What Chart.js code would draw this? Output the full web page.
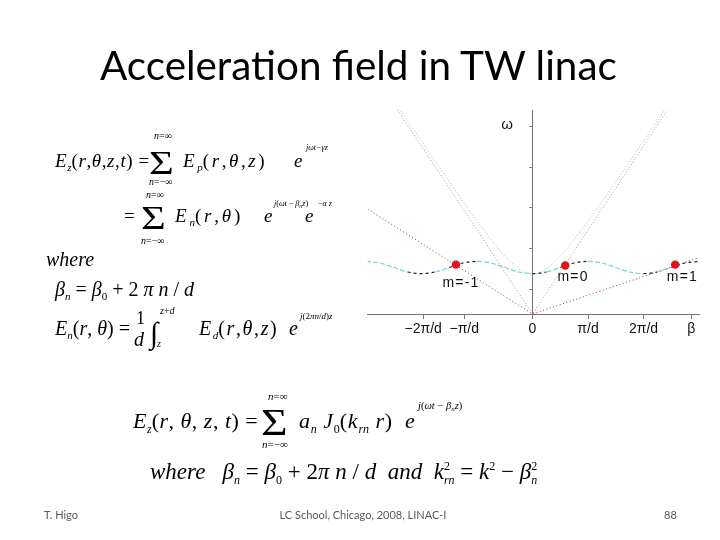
<!DOCTYPE html>
<html><head><meta charset="utf-8">
<script src="https://cdn.jsdelivr.net/npm/chart.js@4/dist/chart.umd.min.js"></script>
<style>
html,body{margin:0;padding:0;background:#fff;}
#slide{position:relative;width:720px;height:540px;overflow:hidden;background:#fff;}
#c{position:absolute;left:0;top:0;}
.t{position:absolute;white-space:nowrap;color:#000;}
.bm{display:inline-block;width:0;height:0;vertical-align:baseline;}
.sb{position:relative;}
</style>
</head><body>
<div id="slide"><canvas id="c" width="720" height="540"></canvas></div>
<script>
// ---- data (beta in units of pi/d, omega in axis units) ----
const bandBeta  = [-3,-2.75,-2.5,-2.25,-2,-1.75,-1.5,-1.25,-1,-0.75,-0.5,-0.25,0,0.25,0.5,0.75,1,1.25,1.5,1.75,2,2.25,2.5,2.75,3];
const bandOmega = [1.29,1.25,1.14,1.03,0.99,1.03,1.14,1.25,1.29,1.25,1.14,1.03,0.99,1.03,1.14,1.25,1.29,1.25,1.14,1.03,0.99,1.03,1.14,1.25,1.29];
const lightBeta  = [-2.43,0,2.43];
const lightOmega = [5.0,0,5.0];
const guideBeta  = [-2.4,-2,-1.5,-1,-0.75,-0.5,-0.25,0,0.25,0.5,0.75,1,1.5,2,2.4];
const guideOmega = [5.04,4.24,3.24,2.28,1.83,1.42,1.11,0.98,1.11,1.42,1.83,2.28,3.24,4.24,5.04];
const modeLabels = ['m=-1','m=0','m=1'];
const modeBeta   = [-1.38,0.59,2.57];
const modeOmega  = [1.21,1.19,1.21];
const mLineBeta  = [-2.97,0,3.0];
const mLineOmega = [2.57,0,1.38];
const tickBeta   = [-1.97,-1.23,0,1,2,2.86];
const tickText   = ['\u22122\u03c0/d','\u2212\u03c0/d','0','\u03c0/d','2\u03c0/d','\u03b2'];
const yTickOmega = [0.6,1.6,2.6,3.6,4.6];

const pts = (xs, ys) => xs.map((x, i) => ({x: x, y: ys[i]}));

// ---- slide text ----
const slide = document.getElementById('slide');
const SERIF = '"Liberation Serif","Times New Roman",serif';
const SANS = 'Lato,"Liberation Sans",sans-serif';
function put(html, x, base, size, family, extra) {
  const d = document.createElement('div');
  d.className = 't';
  d.style.left = x + 'px';
  d.style.top = '0px';
  d.style.fontSize = size + 'px';
  d.style.fontFamily = family || SERIF;
  if (extra) Object.assign(d.style, extra);
  d.innerHTML = html + '<span class="bm"></span>';
  slide.appendChild(d);
  const off = d.querySelector('.bm').offsetTop;
  d.style.top = (base - off) + 'px';
  return d;
}
const sub = (s, px, dy) => `<span class="sb" style="font-size:${px||11}px;top:${dy||4}px;letter-spacing:0">${s}</span>`;
const sup = (s, px, dy) => `<span class="sb" style="font-size:${px||11}px;top:${-(dy||8)}px">${s}</span>`;
const I = s => `<i>${s}</i>`;
const SIG = {transform:'scaleX(1.25)', transformOrigin:'left'};

// title
const title = put('Acceleration field in TW linac', 100, 80, 44, SANS);
const tw = title.getBoundingClientRect().width;
title.style.fontSize = (44 * 517 / tw) + 'px';
{ const off = title.querySelector('.bm').offsetTop; title.style.top = (80 - off) + 'px'; }

// row 1
put(`${I('E')}${sub(I('z'))}(${I('r')},${I('θ')},${I('z')},${I('t')}) =`, 55, 167, 19, SERIF, {letterSpacing:'0.6px'});
put('Σ', 149, 174, 34, SERIF, SIG);
put(`${I('n')}=∞`, 154, 139, 10);
put(`${I('n')}=−∞`, 149, 185, 10);
put(`${I('E')}${sub(I('p'))}(${I('r')},${I('θ')},${I('z')})`, 183, 167, 19, SERIF, {letterSpacing:'2.6px'});
put(I('e'), 294, 167, 19);
put(I('jωt−γz'), 306, 150, 8);
// row 2
put('=', 124, 222, 19);
put('Σ', 141, 229, 34, SERIF, SIG);
put(`${I('n')}=∞`, 146, 198, 10);
put(`${I('n')}=−∞`, 141, 244, 10);
put(`${I('E')}${sub(I('n'))}(${I('r')},${I('θ')})`, 175, 222, 19, SERIF, {letterSpacing:'2.8px'});
put(I('e'), 264, 222, 19);
put(`${I('j')}(${I('ωt')} − ${I('β')}${sub(I('n'),6,2)}${I('z')})`, 274, 206, 8);
put(I('e'), 305, 222, 19);
put(`−${I('α z')}`, 318, 206, 8);
// row 3-5
put(I('where'), 46, 266, 20);
put(`${I('β')}${sub(I('n'))} = ${I('β')}${sub('0')} + 2 ${I('π n')} / ${I('d')}`, 55, 296, 20);
put(`${I('E')}${sub(I('n'))}(${I('r')}, ${I('θ')}) =`, 55, 335, 20);
put('1', 136, 324, 18);
put(I('d'), 134, 346, 20);
put('∫', 150, 343, 30);
put(`${I('z')}+${I('d')}`, 160, 314, 10);
put(I('z'), 157, 347, 10);
put(`${I('E')}${sub(I('d'))}(${I('r')},${I('θ')},${I('z')})`, 199, 335, 20, SERIF, {letterSpacing:'1.6px'});
put(I('e'), 289, 335, 20);
put(`${I('j')}(2${I('πn')}/${I('d')})${I('z')}`, 300, 319, 9);

// bottom equation
put(`${I('E')}${sub(I('z'),12,5)}(${I('r')}, ${I('θ')}, ${I('z')}, ${I('t')}) =`, 133, 428, 22, SERIF, {letterSpacing:'0.5px'});
put('Σ', 261, 435, 38, SERIF, {transform:'scaleX(1.2)', transformOrigin:'left'});
put(`${I('n')}=∞`, 268, 400, 11);
put(`${I('n')}=−∞`, 262, 448, 11);
put(`${I('a')}${sub(I('n'),12,5)} ${I('J')}${sub('0',12,5)}(${I('k')}${sub(I('rn'),12,5)} ${I('r')})`, 299, 428, 22, SERIF, {letterSpacing:'0.8px'});
put(I('e'), 405, 428, 22);
put(`${I('j')}(${I('ωt')} − ${I('β')}${sub(I('n'),7,2)}${I('z')})`, 418, 409, 10.5);
put(`${I('where')}&nbsp;&nbsp; ${I('β')}${sub(I('n'),12,5)} = ${I('β')}${sub('0',12,5)} + 2${I('π n')} / ${I('d')}&nbsp; ${I('and')}&nbsp; ${I('k')}<span class="sb" style="font-size:12px;top:-9px">2</span><span class="sb" style="font-size:12px;top:5px;margin-left:-6px">${I('rn')}</span> = ${I('k')}${sup('2',12,9)} − ${I('β')}<span class="sb" style="font-size:12px;top:-9px">2</span><span class="sb" style="font-size:12px;top:5px;margin-left:-6px">${I('n')}</span>`, 150, 479, 23);

// footer
put('T. Higo', 44, 519, 11, SANS, {color:'#5a5a5a'});
const ft = put('LC School, Chicago, 2008, LINAC-I', 0, 519, 11, SANS, {color:'#5a5a5a'});
ft.style.left = (363 - ft.getBoundingClientRect().width / 2) + 'px';
put('88', 664, 519, 11, SANS, {color:'#5a5a5a'});

// ---- chart ----
Chart.defaults.font.family = '"Liberation Sans", Arial, sans-serif';
const blackRanges = [[-2.3,-1.7],[-1.55,-0.95],[-0.05,0.3],[0.45,1.05],[1.95,2.3],[2.45,3.1]];
const isBlack = (ctx) => {
  const m = (ctx.p0.parsed.x + ctx.p1.parsed.x) / 2;
  return blackRanges.some(r => m >= r[0] && m <= r[1]);
};

const labelPlugin = {
  id: 'labels',
  afterDatasetsDraw(chart) {
    const {ctx, scales: {x, y}} = chart;
    ctx.save();
    ctx.fillStyle = '#111';
    ctx.font = '15px "Liberation Sans", Arial, sans-serif';
    ctx.textAlign = 'center';
    ctx.textBaseline = 'middle';
    ctx.fillText('\u03c9', x.getPixelForValue(-0.46), y.getPixelForValue(4.64));
    ctx.font = '14px "Liberation Sans", Arial, sans-serif';
    const off = [[-1.3,0.75],[0.72,0.9],[2.69,0.9]];
    modeLabels.forEach((t, i) => {
      ctx.fillText(t.split('').join('\u200a'), x.getPixelForValue(off[i][0]), y.getPixelForValue(off[i][1]));
    });
    ctx.restore();
  }
};

new Chart(document.getElementById('c'), {
  type: 'scatter',
  data: {
    datasets: [
      { label: 'modes', data: pts(modeBeta, modeOmega), showLine: false,
        pointRadius: 4.2, pointBackgroundColor: '#e3111a', pointBorderColor: '#e3111a', pointBorderWidth: 0 },
      { label: 'band', data: pts(bandBeta, bandOmega), showLine: true, pointRadius: 0,
        borderWidth: 1.2, cubicInterpolationMode: 'monotone',
        borderColor: '#6fd6d6', borderDash: [5, 2],
        segment: {
          borderColor: c => isBlack(c) ? '#222222' : '#6fd6d6',
          borderDash: c => isBlack(c) ? [3, 3] : [5, 2]
        } },
      { label: 'mlines', data: pts(mLineBeta, mLineOmega), showLine: true, pointRadius: 0,
        borderWidth: 1, borderColor: '#9a3548', borderDash: [1, 2.5] },
      { label: 'light', data: pts(lightBeta, lightOmega), showLine: true, pointRadius: 0,
        borderWidth: 1, borderColor: '#c184b8', borderDash: [1, 2] },
      { label: 'guide', data: pts(guideBeta, guideOmega), showLine: true, pointRadius: 0,
        borderWidth: 1, borderColor: '#8fd08f', borderDash: [1, 2], cubicInterpolationMode: 'monotone' }
    ]
  },
  options: {
    responsive: false,
    animation: false,
    events: [],
    layout: { padding: { left: 367.7, right: 21, top: 110, bottom: 226 } },
    plugins: { legend: { display: false }, tooltip: { enabled: false }, title: { display: false } },
    scales: {
      x: {
        type: 'linear', position: { y: 0 }, min: -2.97, max: 3.0,
        afterBuildTicks: s => { s.ticks = tickBeta.map(v => ({value: v})); },
        ticks: { autoSkip: false, maxRotation: 0, padding: 3, color: '#111', font: { size: 14 },
                 callback: (v, i) => tickText[i] },
        grid: { drawOnChartArea: false, drawTicks: true, tickLength: 4, color: '#777' },
        border: { display: true, color: '#777', width: 1 }
      },
      y: {
        type: 'linear', position: { x: 0 }, min: 0, max: 5.0,
        afterBuildTicks: s => { s.ticks = yTickOmega.map(v => ({value: v})); },
        ticks: { display: true, callback: () => '', padding: 0 },
        grid: { drawOnChartArea: false, drawTicks: true, tickLength: 3, color: '#888' },
        border: { display: true, color: '#777', width: 1 }
      }
    }
  },
  plugins: [labelPlugin]
});
</script>
</body></html>
